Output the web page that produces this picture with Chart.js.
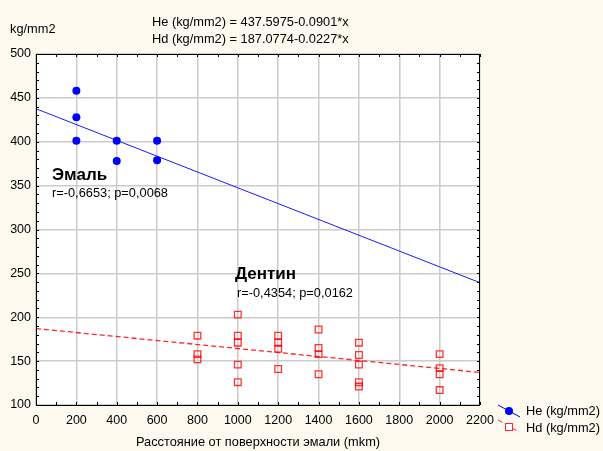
<!DOCTYPE html>
<html>
<head>
<meta charset="utf-8">
<script src="https://cdn.jsdelivr.net/npm/chart.js@4/dist/chart.umd.min.js"></script>
<style>
  html, body { margin: 0; padding: 0; background: #fdf9ef; }
  #grafico { display: block; }
</style>
</head>
<body>
<canvas id="grafico" width="603" height="451"></canvas>
<script>
// dados (microdureza x distância da superfície)
const distEmal = [200, 200, 200, 400, 400, 600, 600];
const heVals = [458, 428, 401, 401, 378, 401, 379];

const distDentin = [800, 800, 800, 1000, 1000, 1000, 1000, 1000, 1200, 1200, 1200, 1200,
    1400, 1400, 1400, 1400, 1600, 1600, 1600, 1600, 1600, 2000, 2000, 2000, 2000];
const hdVals = [179, 158, 152, 203, 179, 171, 146, 126, 179, 171, 164, 141,
    186, 165, 158, 135, 171, 157, 146, 126, 121, 158, 142, 135, 117];

// pontas das retas de regressão
const retaX = [0, 2200];
const heReta = [437.6, 239.4];
const hdReta = [187.1, 137.1];

// ticks dos eixos
const xTicks = [0, 200, 400, 600, 800, 1000, 1200, 1400, 1600, 1800, 2000, 2200];
const yTicks = [100, 150, 200, 250, 300, 350, 400, 450, 500];

const fonte = '"Liberation Sans", Arial, sans-serif';
const pares = (xs, ys) => xs.map((x, i) => ({x: x, y: ys[i]}));

// plugin que pinta o fundo, a moldura, os tracinhos e os textos
const pluginExtras = {
    id: 'extras',
    beforeDraw: (chart) => {
        const {ctx, chartArea: a} = chart;
        ctx.save();
        ctx.fillStyle = '#fdf9ef';
        ctx.fillRect(0, 0, chart.width, chart.height);
        ctx.fillStyle = '#ffffff';
        ctx.fillRect(a.left, a.top, a.right - a.left, a.bottom - a.top);
        ctx.restore();
    },
    afterDraw: (chart) => {
        const {ctx, chartArea: a, scales} = chart;
        ctx.save();
        // moldura
        ctx.strokeStyle = '#000';
        ctx.lineWidth = 1;
        ctx.strokeRect(a.left + 0.5, a.top + 0.5, a.right - a.left - 1, a.bottom - a.top);
        // tracinhos pequenos
        ctx.beginPath();
        for (let v = 0; v <= 2200; v += 100) {
            const px = Math.round(scales.x.getPixelForValue(v)) + 0.5;
            ctx.moveTo(px, a.bottom); ctx.lineTo(px, a.bottom - 3);
            ctx.moveTo(px, a.top); ctx.lineTo(px, a.top + 3);
        }
        for (let v = 100; v <= 500; v += 10) {
            const py = Math.round(scales.y.getPixelForValue(v)) + 0.5;
            ctx.moveTo(a.left, py); ctx.lineTo(a.left + 3, py);
            ctx.moveTo(a.right, py); ctx.lineTo(a.right - 3, py);
        }
        ctx.stroke();

        // textos
        ctx.fillStyle = '#000';
        ctx.textAlign = 'left';
        ctx.textBaseline = 'alphabetic';
        ctx.font = '12.8px ' + fonte;
        ctx.fillText('kg/mm2', 10, 33);
        ctx.fillText('He (kg/mm2) = 437.5975-0.0901*x', 152, 26);
        ctx.fillText('Hd (kg/mm2) = 187.0774-0.0227*x', 152, 43);
        ctx.fillText('r=-0,6653; p=0,0068', 52, 197);
        ctx.fillText('r=-0,4354; p=0,0162', 237, 297);
        ctx.textAlign = 'center';
        ctx.fillText('Расстояние от поверхности эмали (mkm)', 258, 446);
        ctx.textAlign = 'left';
        ctx.font = 'bold 17px ' + fonte;
        ctx.fillText('Эмаль', 52, 180);
        ctx.fillText('Дентин', 235, 279);

        // legenda
        ctx.lineWidth = 1;
        ctx.strokeStyle = '#0000ff';
        ctx.beginPath(); ctx.moveTo(498, 405); ctx.lineTo(520, 417); ctx.stroke();
        ctx.fillStyle = '#0000ff';
        ctx.beginPath(); ctx.arc(509, 411, 4, 0, Math.PI * 2); ctx.fill();
        ctx.strokeStyle = 'rgba(255,0,0,0.85)';
        ctx.setLineDash([5, 3]);
        ctx.beginPath(); ctx.moveTo(498, 420); ctx.lineTo(519, 432); ctx.stroke();
        ctx.setLineDash([]);
        ctx.fillStyle = '#ffffff';
        ctx.fillRect(505.5, 423.5, 7, 7);
        ctx.strokeRect(505.5, 423.5, 7, 7);
        ctx.fillStyle = '#000';
        ctx.font = '12.8px ' + fonte;
        ctx.fillText('He (kg/mm2)', 526, 415);
        ctx.fillText('Hd (kg/mm2)', 526, 432);
        ctx.restore();
    }
};

const configuracao = {
    type: 'scatter',
    data: {
        datasets: [
            {
                label: 'He (kg/mm2)',
                data: pares(distEmal, heVals),
                backgroundColor: '#0000ff',
                borderColor: '#0000ff',
                pointRadius: 4,
                pointBorderWidth: 0,
                order: 1,
            },
            {
                label: 'Hd (kg/mm2)',
                data: pares(distDentin, hdVals),
                pointStyle: 'rect',
                backgroundColor: 'rgba(0,0,0,0)',
                borderColor: 'rgba(255,0,0,0.8)',
                pointRadius: 4.7,
                pointBorderWidth: 1.3,
                order: 2,
            },
            {
                label: 'reta He',
                data: pares(retaX, heReta),
                showLine: true,
                borderColor: '#1a1aff',
                borderWidth: 1,
                pointRadius: 0,
                order: 3,
            },
            {
                label: 'reta Hd',
                data: pares(retaX, hdReta),
                showLine: true,
                borderColor: 'rgba(255,0,0,0.85)',
                borderWidth: 1.3,
                borderDash: [5, 3],
                pointRadius: 0,
                order: 4,
            },
        ],
    },
    options: {
        responsive: false,
        animation: false,
        layout: {padding: {top: 54, right: 123, left: 0, bottom: 0}},
        plugins: {legend: {display: false}, tooltip: {enabled: false}},
        scales: {
            x: {
                type: 'linear',
                min: 0, max: 2200,
                afterBuildTicks: (s) => { s.ticks = xTicks.map((v) => ({value: v})); },
                afterFit: (s) => { s.height = 46; },
                grid: {color: '#cccccc', lineWidth: 1.5, drawTicks: false},
                border: {display: false},
                ticks: {
                    color: '#000', padding: 8, maxRotation: 0,
                    font: {family: fonte, size: 12.5},
                    callback: (v) => String(v),
                },
            },
            y: {
                type: 'linear',
                min: 100, max: 500,
                afterBuildTicks: (s) => { s.ticks = yTicks.map((v) => ({value: v})); },
                afterFit: (s) => { s.width = 36; },
                grid: {color: '#cccccc', lineWidth: 1.5, drawTicks: false},
                border: {display: false},
                ticks: {
                    color: '#000', padding: 5,
                    font: {family: fonte, size: 12.5},
                    callback: (v) => String(v),
                },
            },
        },
    },
    plugins: [pluginExtras],
};

new Chart(document.getElementById('grafico').getContext('2d'), configuracao);
</script>
</body>
</html>
